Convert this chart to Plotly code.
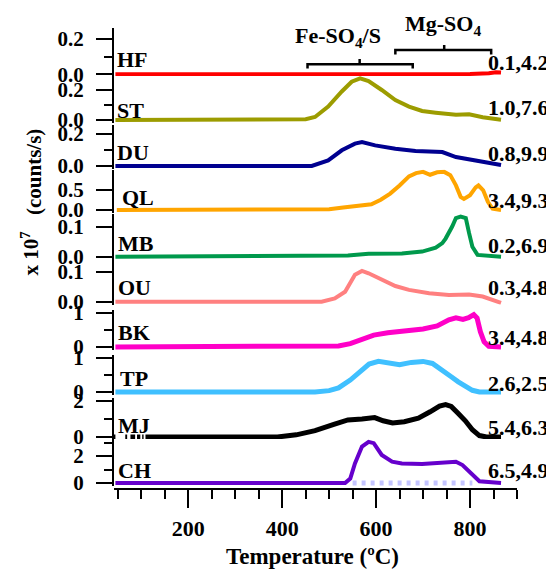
import plotly.graph_objects as go

# ---------------- data ----------------
names = ["HF", "ST", "DU", "QL", "MB", "OU", "BK", "TP", "MJ", "CH"]
right_labels = ["0.1,4.2", "1.0,7.6", "0.8,9.9", "3.4,9.3", "0.2,6.9",
                "0.3,4.8", "3.4,4.8", "2.6,2.5", "5.4,6.3", "6.5,4.9"]

t_hf = [45, 200, 400, 600, 800, 840, 855, 866]
hf = [0, 0, 0, 0, 0.002, 0.006, 0.012, 0.01]

t_st = [45, 300, 450, 470, 498, 527, 548, 566, 584, 612, 641, 670, 698, 727, 770, 798, 827, 866]
st = [0, 0.002, 0.005, 0.02, 0.09, 0.19, 0.255, 0.278, 0.26, 0.2, 0.133, 0.089, 0.06, 0.049, 0.035, 0.038, 0.018, 0.002]

t_du = [45, 463, 498, 527, 555, 570, 598, 641, 684, 741, 770, 812, 866]
du = [0, 0, 0.035, 0.098, 0.14, 0.15, 0.129, 0.108, 0.094, 0.0875, 0.056, 0.035, 0.006]

t_ql = [48, 470, 500, 530, 570, 590, 610, 630, 650, 670, 685, 700, 715, 730, 745, 758, 770, 780, 787, 800, 812, 818, 828, 838, 848, 866]
ql = [0, 0, 0.02, 0.06, 0.1, 0.14, 0.25, 0.4, 0.6, 0.82, 0.9, 0.93, 0.86, 0.92, 0.93, 0.85, 0.6, 0.32, 0.27, 0.36, 0.55, 0.6, 0.48, 0.2, 0.03, 0]

t_mb = [45, 540, 584, 655, 698, 727, 741, 748, 762, 770, 780, 791, 798, 805, 816, 866]
mb = [0, 0.004, 0.01, 0.011, 0.017, 0.03, 0.045, 0.06, 0.1, 0.128, 0.133, 0.128, 0.078, 0.033, 0.006, 0.0]

t_ou = [45, 484, 512, 534, 555, 570, 584, 612, 641, 670, 713, 755, 798, 827, 866]
ou = [0, 0, 0.011, 0.033, 0.089, 0.102, 0.094, 0.072, 0.052, 0.039, 0.028, 0.022, 0.024, 0.017, -0.004]

t_bk = [45, 480, 520, 545, 570, 595, 625, 660, 700, 730, 755, 770, 785, 797, 808, 815, 822, 830, 840, 866]
bk = [0, 0, 0.03, 0.1, 0.22, 0.35, 0.42, 0.47, 0.53, 0.62, 0.8, 0.86, 0.81, 0.86, 0.95, 0.85, 0.45, 0.15, 0.02, 0]

t_tp = [45, 470, 500, 520, 545, 565, 585, 605, 630, 650, 675, 700, 720, 740, 760, 775, 790, 805, 820, 866]
tp = [0, 0, 0.04, 0.12, 0.35, 0.6, 0.82, 0.9, 0.84, 0.8, 0.87, 0.9, 0.84, 0.66, 0.45, 0.3, 0.18, 0.05, 0, 0]

t_mj = [42, 45, None, 66, 70, None, 77, 87, None, 91, 98, None, 102, 105, None, 109, 390, 430, 470, 510, 540, 570, 597, 615, 635, 660, 690, 715, 735, 748, 760, 775, 790, 805, 820, 835, 866]
mj = [0, 0, None, 0, 0, None, 0, 0, None, 0, 0, None, 0, 0, None, 0, 0, 0.12, 0.35, 0.7, 0.95, 1.0, 1.08, 0.9, 0.78, 0.85, 1.05, 1.4, 1.72, 1.8, 1.7, 1.3, 0.9, 0.4, 0.08, 0, 0]

t_ch = [45, 534, 545, 555, 570, 584, 595, 612, 634, 655, 698, 741, 770, 784, 805, 820, 866]
ch = [0, 0, 0.33, 1.45, 2.7, 3.05, 2.95, 2.08, 1.58, 1.45, 1.4, 1.5, 1.58, 1.33, 0.58, 0.13, 0]

t_ch_ref = [550, 805]
ch_ref = [0, 0]

x_ticks = [200, 400, 600, 800]
fe_range = [454, 565, 678]   # left, centre, right (°C)
mg_range = [641, 745, 845]

temps = [t_hf, t_st, t_du, t_ql, t_mb, t_ou, t_bk, t_tp, t_mj, t_ch]
values = [hf, st, du, ql, mb, ou, bk, tp, mj, ch]

# ---------------- styling / layout ----------------
colors = ["#ff0000", "#9c9c00", "#000090", "#ffa500", "#00994c",
          "#ff8080", "#ff00c8", "#40c0ff", "#000000", "#6600cc"]
widths = [4, 4, 4, 4, 4, 4, 5, 5, 5, 4]

OFF = 8                       # page body margin of the browser
W, H = 554 - OFF, 569 - OFF   # figure size so that it fills the window
L, R = 113.5, 516.7           # plot area in window pixels
FONT = "Liberation Serif"


def fy(p):
    """window pixel row -> paper fraction"""
    return 1 - (p - OFF) / H


def fx(p):
    """window pixel column -> paper fraction"""
    return (p - L) / (R - L)


def bold(size):
    return dict(family=FONT, size=size, color="black", weight="bold")


# zero pixel, pixels per unit, top pixel, dtick, minor dtick, format
geom = [
    (74.3, 178, 30, 0.2, 0.1, ".1f"),
    (120, 150, 78, 0.2, 0.1, ".1f"),
    (166, 160, 127, 0.2, 0.1, ".1f"),
    (210, 41, 171.5, 0.5, None, ".1f"),
    (256.7, 302, 216, 0.1, None, ".1f"),
    (301.7, 302, 261.5, 0.1, None, ".1f"),
    (347, 34, 311.5, 1, 0.5, "d"),
    (392, 34, 356.5, 1, 0.5, "d"),
    (437, 18, 400, 2, 1, "d"),
    (483, 13.5, 441, 2, 1, "d"),
]
label_y = [60, 110, 152, 198, 243, 287, 332, 378, 425, 470]
label_x = [115, 115, 115, 120, 116, 116, 116, 118, 116, 116]
right_y = [63, 107, 153, 200, 245, 288, 337, 383, 427, 470]

fig = go.Figure()
layout = dict(
    template="none",
    width=W, height=H,
    margin=dict(l=L - OFF, r=554 - R, t=0, b=0, autoexpand=False),
    plot_bgcolor="white", paper_bgcolor="white",
    showlegend=False,
    font=bold(21),
)

# CH reference dotted baseline (drawn first)
fig.add_trace(go.Scatter(x=t_ch_ref, y=ch_ref, mode="lines", xaxis="x", yaxis="y10",
                         line=dict(color="#c4c4ff", width=5, dash="4px,5px"),
                         hoverinfo="skip"))

annotations = []
for i, (name, tt, vv) in enumerate(zip(names, temps, values)):
    ax = "y" if i == 0 else f"y{i + 1}"
    key = "yaxis" if i == 0 else f"yaxis{i + 1}"
    zero, ppu, top, dt, mdt, fmt = geom[i]
    fig.add_trace(go.Scatter(x=tt, y=vv, mode="lines", xaxis="x", yaxis=ax,
                             line=dict(color=colors[i], width=widths[i]),
                             connectgaps=False, name=name))
    yax = dict(
        domain=[fy(zero + 3), fy(top - 2)],
        range=[-3 / ppu, (zero - top + 2) / ppu],
        anchor="x", automargin=False,
        showline=True, linecolor="black", linewidth=2,
        ticks="outside", ticklen=16, tickwidth=2, tickcolor="black",
        tickmode="linear", tick0=0, dtick=dt, tickformat=fmt,
        tickfont=bold(21),
        ticklabelstandoff=8,
        showgrid=False, zeroline=False, fixedrange=True,
    )
    if mdt:
        yax["minor"] = dict(dtick=mdt, tick0=0, ticks="outside", ticklen=8,
                            tickwidth=2, tickcolor="black", showgrid=False)
    layout[key] = yax
    annotations.append(dict(x=fx(label_x[i]), y=fy(label_y[i]), xref="paper", yref="paper",
                            text=name, showarrow=False, xanchor="left", yanchor="middle",
                            font=bold(22)))
    annotations.append(dict(x=fx(551), y=fy(right_y[i]), xref="paper", yref="paper",
                            text=right_labels[i], showarrow=False, xanchor="right",
                            yanchor="middle", font=bold(22)))

layout["xaxis"] = dict(
    domain=[0, 1], range=[42, 900], anchor="free", position=fy(489), automargin=False,
    showline=True, linecolor="black", linewidth=2,
    ticks="outside", ticklen=18, tickwidth=2, tickcolor="black",
    tickmode="array", tickvals=x_ticks,
    tickfont=bold(22),
    ticklabelstandoff=2,
    minor=dict(dtick=50, tick0=0, ticks="outside", ticklen=9, tickwidth=2,
               tickcolor="black", showgrid=False),
    showgrid=False, zeroline=False, fixedrange=True,
)

# axis titles
annotations.append(dict(x=fx(312.5), y=fy(556), xref="paper", yref="paper",
                        text="Temperature (ºC)", showarrow=False,
                        xanchor="center", yanchor="middle", font=bold(23)))
annotations.append(dict(x=fx(29), y=fy(254), xref="paper", yref="paper",
                        text="x 10<sup>7</sup>", showarrow=False, textangle=-90,
                        xanchor="center", yanchor="middle", font=bold(21)))
annotations.append(dict(x=fx(33.5), y=fy(172), xref="paper", yref="paper",
                        text="(counts/s)", showarrow=False, textangle=-90,
                        xanchor="center", yanchor="middle", font=bold(21)))

# bracket labels
annotations.append(dict(x=519, y=fy(37), xref="x", yref="paper",
                        text="Fe-SO<sub>4</sub>/S", showarrow=False,
                        xanchor="center", yanchor="middle", font=bold(22)))
annotations.append(dict(x=743, y=fy(25), xref="x", yref="paper",
                        text="Mg-SO<sub>4</sub>", showarrow=False,
                        xanchor="center", yanchor="middle", font=bold(22)))

shapes = []
for (l, c, r), yl, yd, yu in [(fe_range, 64.3, 68.5, 59), (mg_range, 50, 54.5, 45)]:
    shapes.append(dict(type="path", xref="x", yref="paper",
                       path=f"M {l},{fy(yd)} L {l},{fy(yl)} L {r},{fy(yl)} L {r},{fy(yd)}",
                       line=dict(color="black", width=2.5)))
    shapes.append(dict(type="line", xref="x", yref="paper", x0=c, x1=c,
                       y0=fy(yl), y1=fy(yu), line=dict(color="black", width=2.5)))

layout["annotations"] = annotations
layout["shapes"] = shapes
fig.update_layout(**layout)
fig.write_html("out.html")
